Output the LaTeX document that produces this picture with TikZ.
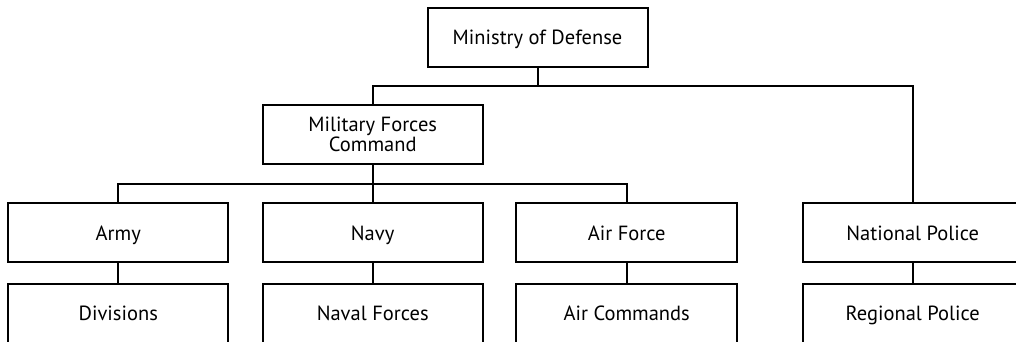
\documentclass[tikz,border=0pt]{standalone}
\usepackage{fontspec}
\setmainfont{PT Sans}
\begin{document}
\begin{tikzpicture}[x=1pt,y=-1pt,
  box/.style={draw=black,line width=2pt,minimum width=220pt,minimum height=59pt,inner sep=0pt,align=center,font=\fontsize{20.5}{20}\selectfont,text=black},
  one/.style={text height=19pt,text depth=4.6pt},
  conn/.style={draw=black,line width=2pt}]
\useasboundingbox (0,0) rectangle (1016,341);
\clip (0,0) rectangle (1016,341);
\node[box,one] (mod) at (537.5,37) {Ministry of Defense};
\node[box] (mfc) at (372.7,134.7) {Military Forces\\Command};
\node[box,one] (army) at (118.3,232.8) {Army};
\node[box,one] (navy) at (372.7,232.8) {Navy};
\node[box,one,minimum width=221pt] (af) at (626.7,232.8) {Air Force};
\node[box,one] (np) at (912.7,232.8) {National Police};
\node[box,one] (div) at (118.3,313) {Divisions};
\node[box,one] (nav) at (372.7,313) {Naval Forces};
\node[box,one,minimum width=221pt] (ac) at (626.7,313) {Air Commands};
\node[box,one] (rp) at (912.7,313) {Regional Police};
\coordinate (j1) at (537.5,86);
\coordinate (j2) at (372.7,184);
\draw[conn] (mod.south) -- (j1);
\draw[conn] (mfc.north) |- (j1) -| (np.north);
\draw[conn] (mfc.south) -- (navy.north);
\draw[conn] (army.north) |- (j2) -| (af.north);
\draw[conn] (army) -- (div);
\draw[conn] (navy) -- (nav);
\draw[conn] (af) -- (ac);
\draw[conn] (np) -- (rp);
\end{tikzpicture}
\end{document}
